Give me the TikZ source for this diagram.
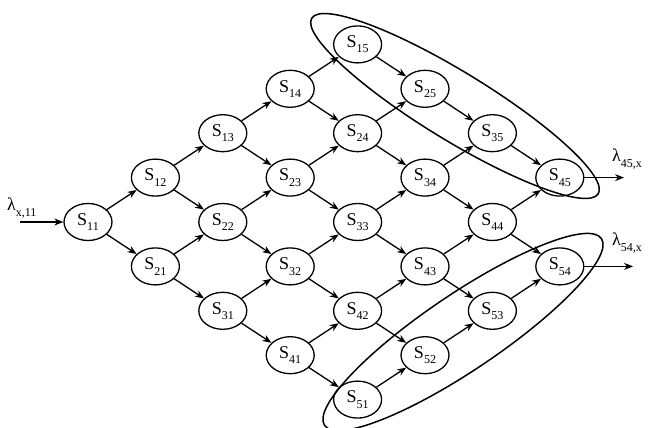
\documentclass[tikz,border=0pt]{standalone}
\usepackage{fontspec}
\setmainfont{Liberation Serif}
\usetikzlibrary{arrows.meta,shapes.geometric}
\newcommand{\Sn}[1]{S\raisebox{-0.3em}{\fontsize{12}{12}\selectfont #1}}
\newcommand{\Lm}[1]{λ\raisebox{-0.3em}{\fontsize{12}{12}\selectfont #1}}
\begin{document}
\begin{tikzpicture}[x=1pt,y=-1pt,
  state/.style={draw,ellipse,minimum width=48pt,minimum height=37pt,inner sep=0pt,line width=1.3pt,font=\fontsize{18}{20}\selectfont},
  arr/.style={-{Stealth[length=9pt,width=7pt]},line width=1.3pt},
  lab/.style={anchor=west,inner sep=0pt,font=\fontsize{18}{20}\selectfont},
  group/.style={line width=1.5pt}]
\useasboundingbox (0,0) rectangle (651,428);
\foreach \i in {1,...,5}{
  \foreach \j in {1,...,5}{
    \ifnum\numexpr\i+\j\relax<10
      \node[state] (s\i\j) at ({88+67.4*(\i+\j-2)},{222-44.4*(\j-\i)}) {\Sn{\i\j}};
    \fi
  }}
\foreach \i in {1,...,5}{
  \foreach \j in {1,...,5}{
    \pgfmathtruncatemacro\jn{\j+1}
    \pgfmathtruncatemacro\in{\i+1}
    \ifnum\numexpr\i+\j\relax<9
      \ifnum\j<5 \draw[arr] (s\i\j) -- (s\i\jn); \fi
      \ifnum\i<5 \draw[arr] (s\i\j) -- (s\in\j); \fi
    \fi
  }}
% input / outputs
\coordinate (cin) at (20,222);
\coordinate (o45) at (624,177.6);
\coordinate (o54) at (633,266.4);
\draw[arr] (cin) -- (s11);
\draw[arr] (s45.east) -- (o45);
\draw[arr] (s54.east) -- (o54);
\node[lab] (l11) at (7,208) {\Lm{x,11}};
\node[lab] (l45) at (612,159) {\Lm{45,x}};
\node[lab] (l54) at (612,243) {\Lm{54,x}};
% groups
\draw[group,rotate around={-31.5:(455,106)}] (455,106) ellipse [x radius=168pt, y radius=34pt];
\draw[group,rotate around={34:(463,332)}] (463,332) ellipse [x radius=167pt, y radius=38pt];
\end{tikzpicture}
\end{document}
